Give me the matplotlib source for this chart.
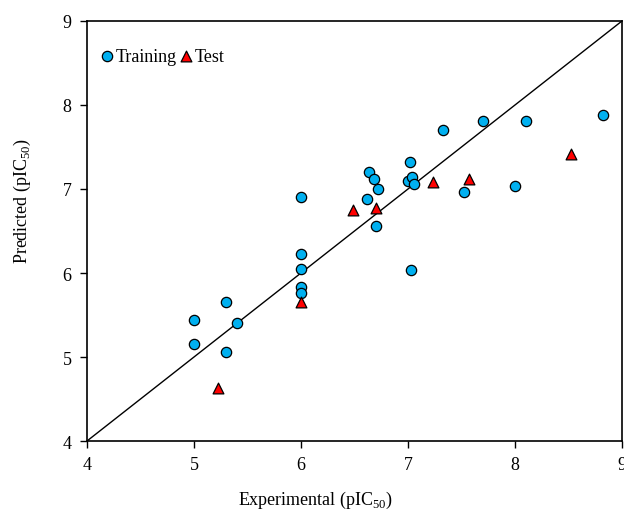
from matplotlib import pyplot as plt
import numpy as np

plt.rcParams['font.family'] = ['Liberation Serif', 'DejaVu Serif']
plt.rcParams['mathtext.fontset'] = 'custom'
plt.rcParams['mathtext.rm'] = 'Liberation Serif'

# Training set (experimental vs predicted)
train_exp = [5.00, 5.00, 5.30, 5.30, 5.40, 6.00, 6.00, 6.00, 6.00, 6.00,
             6.64, 6.68, 6.72, 6.62, 6.70, 7.02, 7.00, 7.04, 7.06, 7.33,
             7.52, 7.70, 8.10, 8.00, 8.82, 7.03]
train_pred = [5.44, 5.16, 5.66, 5.06, 5.41, 6.23, 6.05, 5.83, 5.76, 6.90,
              7.20, 7.12, 7.00, 6.88, 6.56, 7.32, 7.10, 7.14, 7.06, 7.70,
              6.97, 7.81, 7.81, 7.03, 7.88, 6.04]

# Test set
test_exp = [5.22, 6.00, 6.49, 6.70, 7.23, 7.57, 8.52]
test_pred = [4.63, 5.66, 6.75, 6.77, 7.08, 7.12, 7.42]

line_x = [4, 9]
line_y = [4, 9]

fig = plt.figure(figsize=(6.24, 5.10), dpi=100)
ax = fig.add_axes([0.1394, 0.1333, 0.8574, 0.8236])

ax.plot(line_x, line_y, color='black', linewidth=1.0, zorder=1)
ax.scatter(train_exp, train_pred, s=55, c='#00B0F0', edgecolors='black',
           linewidths=0.9, marker='o', label='Training', zorder=3)
ax.scatter(test_exp, test_pred, s=60, c='#FF0000', edgecolors='black',
           linewidths=0.9, marker='^', label='Test', zorder=3)

ax.set_xlim(4, 9)
ax.set_ylim(4, 9)
ax.set_xticks([4, 5, 6, 7, 8, 9])
ax.set_yticks([4, 5, 6, 7, 8, 9])
ax.tick_params(direction='out', length=5, width=1.0, labelsize=13,
               top=False, right=False)
ax.tick_params(axis='x', pad=6)
ax.tick_params(axis='y', pad=6)

for sp in ax.spines.values():
    sp.set_linewidth(1.2)

ax.set_xlabel('Experimental (pIC$_{\\mathrm{50}}$)', fontsize=13)
ax.set_ylabel('Predicted (pIC$_{\\mathrm{50}}$)', fontsize=13)
# labels sit off-centre in the original
ax.xaxis.set_label_coords(0.428, -0.114)
ax.yaxis.set_label_coords(-0.101, 0.574)

ax.legend(loc='upper left', ncol=2, frameon=False, fontsize=13,
          handletextpad=0.0, columnspacing=0.0, borderaxespad=0.2,
          bbox_to_anchor=(0.0, 0.962), handlelength=1.0)

plt.savefig('out.png', dpi=100)
